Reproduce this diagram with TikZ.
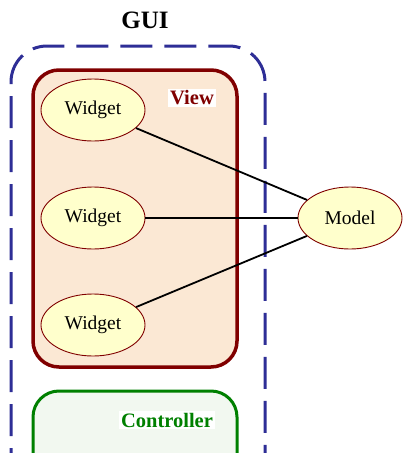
\documentclass[tikz,border=0pt]{standalone}
\usepackage{fontspec}
\setmainfont{Liberation Serif}
\usetikzlibrary{shapes.geometric}
\definecolor{guiblue}{RGB}{46,46,150}
\definecolor{viewred}{RGB}{128,0,0}
\definecolor{ctrlgreen}{RGB}{0,128,0}
\definecolor{ellfill}{RGB}{255,255,204}
\definecolor{viewfill}{RGB}{251,232,212}
\definecolor{ctrlfill}{RGB}{242,248,240}
\tikzset{
  blob/.style={ellipse, draw=viewred, line width=0.9pt, fill=ellfill,
    minimum width=104pt, minimum height=62pt, inner sep=0pt,
    font=\fontsize{19.5}{22}\selectfont},
  boxlabel/.style={fill=white, inner sep=2pt, font=\bfseries\fontsize{20.5}{24}\selectfont},
  link/.style={line width=1.8pt, black}
}
\begin{document}
\begin{tikzpicture}[x=1pt,y=-1pt]
\useasboundingbox (0,0) rectangle (411,453);
\clip (0,0) rectangle (411,453);
\fill[white] (0,0) rectangle (411,453);
% GUI title
\node[font=\bfseries\fontsize{25}{30}\selectfont] (gui) at (145,20) {GUI};
% GUI dashed outline
\draw[guiblue, line width=3pt, dash pattern=on 32pt off 12pt, dash phase=10pt, rounded corners=36pt]
  (11,470) -- (11,46) -- (265,46) -- (265,470);
% View box
\draw[viewred, line width=3.5pt, fill=viewfill, rounded corners=26pt]
  (33,70) rectangle (237,367);
\node[boxlabel, text=viewred] (view) at (192,98) {View};
% Controller box
\draw[ctrlgreen, line width=3pt, fill=ctrlfill, rounded corners=26pt]
  (33,470) -- (33,391) -- (237,391) -- (237,470);
\node[boxlabel, text=ctrlgreen] (ctrl) at (167,420) {Controller};
% Widgets and model
\node[blob] (w1) at (93,110) {Widget};
\node[blob] (w2) at (93,218) {Widget};
\node[blob] (w3) at (93,325) {Widget};
\node[blob] (m) at (350,218) {Model};
\draw[link] (w1) -- (m);
\draw[link] (w2) -- (m);
\draw[link] (w3) -- (m);
\end{tikzpicture}
\end{document}
